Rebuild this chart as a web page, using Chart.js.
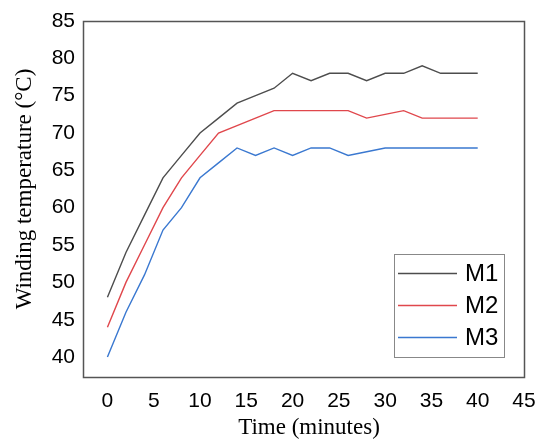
<!DOCTYPE html>
<html><head><meta charset="utf-8">
<script src="https://cdn.jsdelivr.net/npm/chart.js@4/dist/chart.umd.min.js"></script>
<style>html,body{margin:0;padding:0;background:#fff}#wrap{width:539px;height:441px}</style>
</head><body><div id="wrap"><canvas id="c" width="539" height="441"></canvas></div>
<script>
const times = [0,2,4,6,8,10,12,14,16,18,20,22,24,26,28,30,32,34,36,38,40];
const m1 = [48,54,59,64,67,70,72,74,75,76,78,77,78,78,77,78,78,79,78,78,78];
const m2 = [44,50,55,60,64,67,70,71,72,73,73,73,73,73,72,72.5,73,72,72,72,72];
const m3 = [40,46,51,57,60,64,66,68,67,68,67,68,68,67,67.5,68,68,68,68,68,68];
const seriesNames = ['M1','M2','M3'];
const xTicks = [0,5,10,15,20,25,30,35,40,45];
const yTicks = [40,45,50,55,60,65,70,75,80,85];
const xTitle = 'Time (minutes)';
const yTitle = 'Winding temperature (°C)';
const colors = ['#4d4d4d','#e0474c','#3a78d0'];

function mk(vals){ return times.map((t,i)=>({x:t,y:vals[i]})); }

const boxPlugin = {
  id:'boxPlugin',
  afterDraw(chart){
    const ctx = chart.ctx;
    const a = chart.chartArea;
    ctx.save();
    ctx.strokeStyle = '#555';
    ctx.lineWidth = 1.5;
    ctx.strokeRect(a.left+0.5, a.top+0.5, a.right-a.left, a.bottom-a.top);
    // titles
    ctx.fillStyle = '#000';
    ctx.font = '23px "Liberation Serif", "Times New Roman", serif';
    ctx.textAlign = 'center';
    ctx.textBaseline = 'middle';
    ctx.fillText(xTitle, 309, 428);
    ctx.save();
    ctx.translate(25, 189);
    ctx.rotate(-Math.PI/2);
    ctx.fillText(yTitle, 0, 0);
    ctx.restore();
    // legend
    const lx = 394, ly = 254, lw = 110, lh = 103;
    ctx.strokeStyle = '#888';
    ctx.lineWidth = 1;
    ctx.fillStyle = '#fff';
    ctx.fillRect(lx+0.5, ly+0.5, lw, lh);
    ctx.strokeRect(lx+0.5, ly+0.5, lw, lh);
    ctx.font = '24px "Liberation Sans", Arial, sans-serif';
    ctx.textBaseline = 'middle';
    ctx.textAlign = 'left';
    chart.data.datasets.forEach((ds,i)=>{
      const y = 273.5 + i*32;
      ctx.strokeStyle = ds.borderColor;
      ctx.lineWidth = 1.3;
      ctx.beginPath(); ctx.moveTo(398, y); ctx.lineTo(457, y); ctx.stroke();
      ctx.fillStyle = '#000';
      ctx.fillText(ds.label, 465, y+1);
    });
    ctx.restore();
  }
};

new Chart(document.getElementById('c'), {
  type:'line',
  data:{ datasets:[
    {label:seriesNames[0], data:mk(m1), borderColor:colors[0]},
    {label:seriesNames[1], data:mk(m2), borderColor:colors[1]},
    {label:seriesNames[2], data:mk(m3), borderColor:colors[2]}
  ].map(d=>Object.assign(d,{borderWidth:1.4,pointRadius:0,tension:0,fill:false}))},
  options:{
    responsive:false, animation:false,
    layout:{padding:{left:0,right:15,top:21,bottom:0}},
    plugins:{legend:{display:false},tooltip:{enabled:false}},
    scales:{
      x:{type:'linear',min:-2.64,max:45,
        afterBuildTicks(s){ s.ticks = xTicks.map(v=>({value:v})); },
        afterFit(s){ s.height = 64; s.paddingLeft = 0; s.paddingRight = 0; },
        grid:{display:false,drawTicks:false}, border:{display:false},
        ticks:{color:'#000',font:{family:'"Liberation Sans", Arial, sans-serif',size:21},padding:12,maxRotation:0,autoSkip:false}
      },
      y:{type:'linear',min:37.33,max:85,
        afterBuildTicks(s){ s.ticks = yTicks.map(v=>({value:v})); },
        afterFit(s){ s.width = 83; s.paddingTop = 0; s.paddingBottom = 0; },
        grid:{display:false,drawTicks:false}, border:{display:false},
        ticks:{color:'#000',font:{family:'"Liberation Sans", Arial, sans-serif',size:21},padding:8,autoSkip:false}
      }
    }
  },
  plugins:[boxPlugin]
});
</script></body></html>
